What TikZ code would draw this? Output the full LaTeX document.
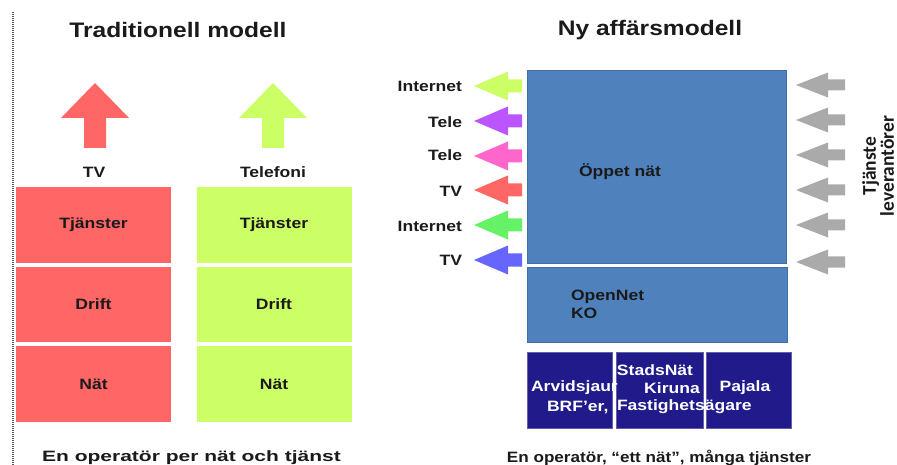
\documentclass[tikz,border=0pt]{standalone}
\usepackage{fontspec}
\setmainfont[FakeStretch=1.17]{Liberation Sans}
\newfontfamily\plainfont{Liberation Sans}
\newfontfamily\narrowfont{Carlito}
\definecolor{cRed}{HTML}{FF6666}
\definecolor{cLime}{HTML}{CCFF66}
\definecolor{cPurple}{HTML}{BB55FF}
\definecolor{cPink}{HTML}{FF66CC}
\definecolor{cGreen}{HTML}{66F266}
\definecolor{cBlueArr}{HTML}{6666FF}
\definecolor{cGrey}{HTML}{AAAAAA}
\definecolor{cBlue}{HTML}{4F81BD}
\definecolor{cBlueEdge}{HTML}{3F6FAA}
\definecolor{cNavy}{HTML}{201A8A}
\definecolor{cText}{HTML}{1A1A1A}
\begin{document}
\begin{tikzpicture}[x=1pt,y=-1pt,
  every node/.style={inner sep=0pt, outer sep=0pt, text=cText},
  titletext/.style={font=\bfseries\fontsize{21}{25}\selectfont},
  lbl/.style={font=\bfseries\fontsize{15}{18}\selectfont},
  cell/.style={minimum width=155pt, font=\bfseries\fontsize{15}{18}\selectfont},
  bluebox/.style={fill=cBlue, draw=cBlueEdge, line width=0.8pt},
  navybox/.style={fill=cNavy, draw=cNavy!70!white, line width=0.8pt, minimum height=76pt},
  navytext/.style={font=\bfseries\fontsize{15}{18}\selectfont, text=white},
  bottomtext/.style={font=\plainfont\bfseries\fontsize{15}{18}\selectfont},
  arrU/.pic={\path[pic actions] (0,0) -- (34,35) -- (11,35) -- (11,65) -- (-11,65) -- (-11,35) -- (-34,35) -- cycle;},
  arrL/.pic={\path[pic actions] (0,0) -- (34,-14.5) -- (34,-6.5) -- (48,-6.5) -- (48,6.5) -- (34,6.5) -- (34,14.5) -- cycle;},
  arrG/.pic={\path[pic actions] (0,0) -- (32,-12.5) -- (32,-5.5) -- (49,-5.5) -- (49,5.5) -- (32,5.5) -- (32,12.5) -- cycle;}
]
\useasboundingbox (0,0) rectangle (897,465);

% dotted separator
\coordinate (dtop) at (13,12);
\coordinate (dbot) at (13,465);
\draw[black!65, line width=1.3pt, dash pattern=on 1pt off 1pt] (dtop) -- (dbot);

% ---------- Traditionell modell ----------
\node[titletext] (t1) at (178,30) {Traditionell modell};

\pic[fill=cRed] (upR) at (95,83) {arrU};
\pic[fill=cLime] (upG) at (273,83) {arrU};
\node[lbl] (lTV) at (94,172) {TV};
\node[lbl] (lTel) at (273,172) {Telefoni};

\node[cell, fill=cRed, minimum height=76pt] (r1) at (93.5,225) {Tjänster};
\node[cell, fill=cRed, minimum height=75pt] (r2) at (93.5,304.5) {Drift};
\node[cell, fill=cRed, minimum height=76pt] (r3) at (93.5,384) {Nät};
\node[cell, fill=cLime, minimum height=76pt] (g1) at (274,225) {Tjänster};
\node[cell, fill=cLime, minimum height=75pt] (g2) at (274,304.5) {Drift};
\node[cell, fill=cLime, minimum height=76pt] (g3) at (274,384) {Nät};

\node[bottomtext] (b1) at (191.5,458) {\scalebox{1.4}[1]{En operatör per nät och tjänst}};

% ---------- Ny affärsmodell ----------
\node[titletext] (t2) at (650,30) {Ny affärsmodell};

\node[bluebox, minimum width=259pt, minimum height=193pt] (open) at (656.5,166.5) {};
\node[lbl] (openT) at (620,172) {Öppet nät};
\node[bluebox, minimum width=260pt, minimum height=75pt] (onet) at (657,304.5) {};
\node[lbl, align=left, anchor=west] (onetT) at (571,304.5) {OpenNet\\KO};

\node[navybox, minimum width=85pt] (n1) at (569.5,390) {};
\node[navybox, minimum width=87pt] (n2) at (659.5,390) {};
\node[navybox, minimum width=85pt] (n3) at (748.5,390) {};
\node[navytext] (sn) at (655,370) {StadsNät};
\node[navytext, anchor=west] (arv) at (531,388) {Arvidsjaur};
\node[navytext] (kir) at (672,388) {Kiruna};
\node[navytext] (paj) at (745,388) {Pajala};
\node[navytext, anchor=west] (brf) at (547,407) {BRF'er,};
\node[navytext, anchor=west] (fas) at (617,407) {Fastighetsägare};

% service arrows (left)
\pic[fill=cLime] (a1) at (474,86) {arrL};
\pic[fill=cPurple] (a2) at (474,121) {arrL};
\pic[fill=cPink] (a3) at (474,156) {arrL};
\pic[fill=cRed] (a4) at (474,190) {arrL};
\pic[fill=cGreen] (a5) at (474,225) {arrL};
\pic[fill=cBlueArr] (a6) at (474,260) {arrL};
\node[lbl, anchor=east] (s1) at (462,86) {Internet};
\node[lbl, anchor=east] (s2) at (462,122) {Tele};
\node[lbl, anchor=east] (s3) at (462,155) {Tele};
\node[lbl, anchor=east] (s4) at (462,191) {TV};
\node[lbl, anchor=east] (s5) at (462,226) {Internet};
\node[lbl, anchor=east] (s6) at (462,260) {TV};

% provider arrows (right)
\pic[fill=cGrey] (p1) at (796,85) {arrG};
\pic[fill=cGrey] (p2) at (796,120) {arrG};
\pic[fill=cGrey] (p3) at (796,155) {arrG};
\pic[fill=cGrey] (p4) at (796,190) {arrG};
\pic[fill=cGrey] (p5) at (796,225) {arrG};
\pic[fill=cGrey] (p6) at (796,262) {arrG};
\node[rotate=90, align=center, font=\narrowfont\bfseries\fontsize{19.5}{18}\selectfont] (prov) at (878,166) {Tjänste\\leverantörer};

\node[bottomtext] (b2) at (659,458) {\scalebox{1.14}[1]{En operatör, “ett nät”, många tjänster}};
\end{tikzpicture}
\end{document}
